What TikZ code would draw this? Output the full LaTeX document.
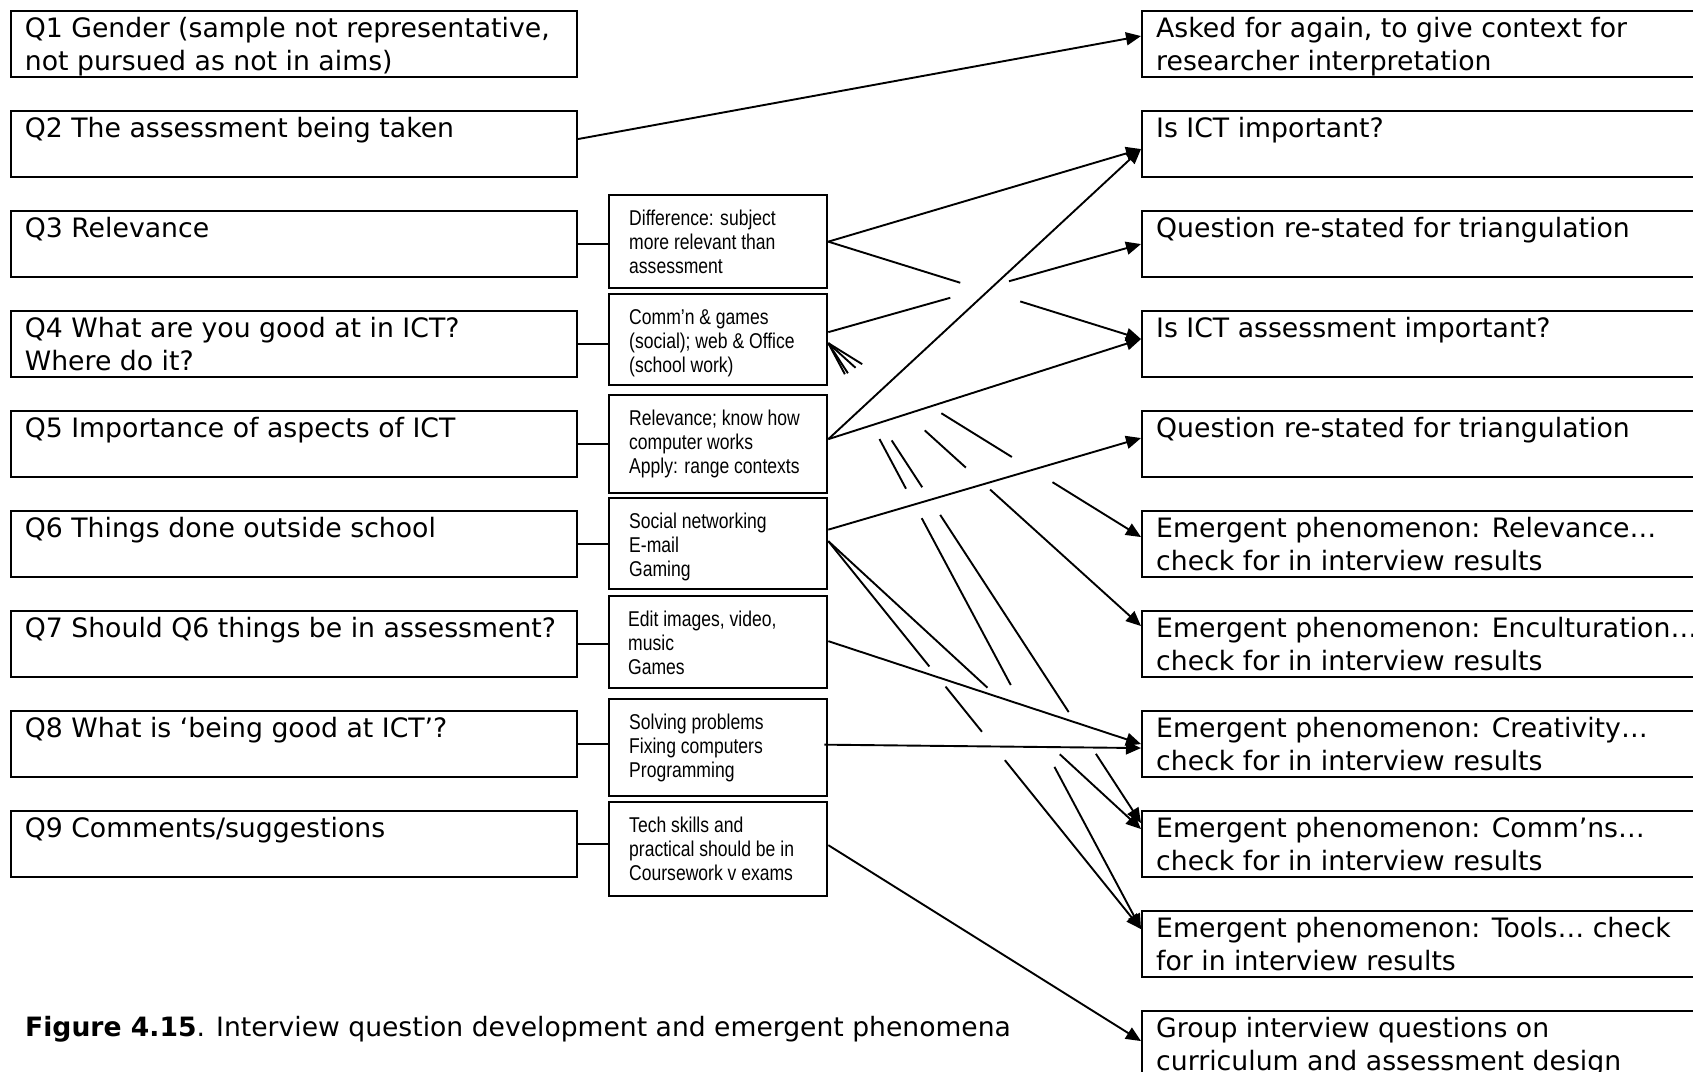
\documentclass[tikz,border=0pt]{standalone}
\usepackage{fontspec}
\setmainfont{DejaVu Sans}
\newfontfamily\narrowfont[FakeStretch=0.82]{Liberation Sans}
\usetikzlibrary{arrows.meta,calc}

\begin{document}
\begin{tikzpicture}[x=1pt,y=-1pt,
  box/.style={draw, line width=2.3pt, inner sep=0pt, anchor=north west},
  qbox/.style={box, minimum width=566pt, minimum height=66.4pt},
  mbox/.style={box, minimum width=218pt},
  rbox/.style={box, minimum width=600pt, minimum height=66.4pt},
  txt/.style={anchor=north west, inner sep=0pt, align=left,
    font=\fontsize{26.7}{32.4}\selectfont},
  mtxt/.style={anchor=north west, inner sep=0pt, align=left,
    font=\narrowfont\fontsize{21.4}{24}\selectfont},
  link/.style={line width=1.9pt},
  arr/.style={link, -{Triangle[length=15pt,width=13pt]}},
]
\useasboundingbox (0,0) rectangle (1693,1071);
\clip (0,0) rectangle (1693,1071);
\fill[white] (0,0) rectangle (1693,1071);

% ---- questionnaire items (left column)
\node[qbox] (q1) at (9.7,9.7) {};
\node[qbox] (q2) at (9.7,109.7) {};
\node[qbox] (q3) at (9.7,209.7) {};
\node[qbox] (q4) at (9.7,309.7) {};
\node[qbox] (q5) at (9.7,409.7) {};
\node[qbox] (q6) at (9.7,509.7) {};
\node[qbox] (q7) at (9.7,609.7) {};
\node[qbox] (q8) at (9.7,709.7) {};
\node[qbox] (q9) at (9.7,809.7) {};

\node[txt] (q1t) at ($(q1.north west)+(15,5.3)$) {\strut Q1 Gender (sample not representative,\\not pursued as not in aims)};
\node[txt] (q2t) at ($(q2.north west)+(15,5.3)$) {\strut Q2 The assessment being taken};
\node[txt] (q3t) at ($(q3.north west)+(15,5.3)$) {\strut Q3 Relevance};
\node[txt] (q4t) at ($(q4.north west)+(15,5.3)$) {\strut Q4 What are you good at in ICT?\\Where do it?};
\node[txt] (q5t) at ($(q5.north west)+(15,5.3)$) {\strut Q5 Importance of aspects of ICT};
\node[txt] (q6t) at ($(q6.north west)+(15,5.3)$) {\strut Q6 Things done outside school};
\node[txt] (q7t) at ($(q7.north west)+(15,5.3)$) {\strut Q7 Should Q6 things be in assessment?};
\node[txt] (q8t) at ($(q8.north west)+(15,5.3)$) {\strut Q8 What is ‘being good at ICT’?};
\node[txt] (q9t) at ($(q9.north west)+(15,5.3)$) {\strut Q9 Comments/suggestions};

% ---- summarised responses (middle column)
\node[mbox, minimum height=93pt] (m3) at (608,194) {};
\node[mbox, minimum height=91pt] (m4) at (608,293) {};
\node[mbox, minimum height=98pt] (m5) at (608,394) {};
\node[mbox, minimum height=91pt] (m6) at (608,497) {};
\node[mbox, minimum height=92pt] (m7) at (608,595) {};
\node[mbox, minimum height=97pt] (m8) at (608,698) {};
\node[mbox, minimum height=94pt] (m9) at (608,801) {};

\node[mtxt] (m3t) at ($(m3.north west)+(21,14.2)$) {\strut Difference: subject\\more relevant than\\assessment};
\node[mtxt] (m4t) at ($(m4.north west)+(21,14.2)$) {\strut Comm’n \& games\\(social); web \& Office\\(school work)};
\node[mtxt] (m5t) at ($(m5.north west)+(21,14.2)$) {\strut Relevance; know how\\computer works\\Apply: range contexts};
\node[mtxt] (m6t) at ($(m6.north west)+(21,14.2)$) {\strut Social networking\\E-mail\\Gaming};
\node[mtxt] (m7t) at ($(m7.north west)+(20,14.2)$) {\strut Edit images, video,\\music\\Games};
\node[mtxt] (m8t) at ($(m8.north west)+(21,14.2)$) {\strut Solving problems\\Fixing computers\\Programming};
\node[mtxt] (m9t) at ($(m9.north west)+(21,14.2)$) {\strut Tech skills and\\practical should be in\\Coursework v exams};

% ---- outcomes (right column, running off the right edge)
\node[rbox] (r1) at (1141,9.7) {};
\node[rbox] (r2) at (1141,109.7) {};
\node[rbox] (r3) at (1141,209.7) {};
\node[rbox] (r4) at (1141,309.7) {};
\node[rbox] (r5) at (1141,409.7) {};
\node[rbox] (r6) at (1141,509.7) {};
\node[rbox] (r7) at (1141,609.7) {};
\node[rbox] (r8) at (1141,709.7) {};
\node[rbox] (r9) at (1141,809.7) {};
\node[rbox] (r10) at (1141,909.7) {};
\node[rbox] (r11) at (1141,1009.7) {};

\node[txt] (r1t) at ($(r1.north west)+(15,5.3)$) {\strut Asked for again, to give context for\\researcher interpretation};
\node[txt] (r2t) at ($(r2.north west)+(15,5.3)$) {\strut Is ICT important?};
\node[txt] (r3t) at ($(r3.north west)+(15,5.3)$) {\strut Question re-stated for triangulation};
\node[txt] (r4t) at ($(r4.north west)+(15,5.3)$) {\strut Is ICT assessment important?};
\node[txt] (r5t) at ($(r5.north west)+(15,5.3)$) {\strut Question re-stated for triangulation};
\node[txt] (r6t) at ($(r6.north west)+(15,5.3)$) {\strut Emergent phenomenon: Relevance…\\check for in interview results};
\node[txt] (r7t) at ($(r7.north west)+(15,5.3)$) {\strut Emergent phenomenon: Enculturation…\\check for in interview results};
\node[txt] (r8t) at ($(r8.north west)+(15,5.3)$) {\strut Emergent phenomenon: Creativity…\\check for in interview results};
\node[txt] (r9t) at ($(r9.north west)+(15,5.3)$) {\strut Emergent phenomenon: Comm’ns…\\check for in interview results};
\node[txt] (r10t) at ($(r10.north west)+(15,5.3)$) {\strut Emergent phenomenon: Tools… check\\for in interview results};
\node[txt] (r11t) at ($(r11.north west)+(15,5.3)$) {\strut Group interview questions on\\curriculum and assessment design};

% ---- caption
\node[anchor=base west, inner sep=0pt, font=\fontsize{26.6}{31}\selectfont] (cap)
  at (25,1036.7) {\textbf{Figure 4.15}. Interview question development and emergent phenomena};

% ---- question to response links
\foreach \k in {3,...,9}
  \draw[link] (q\k.east) -- (q\k.east -| m\k.west);

% ---- links to outcomes (some run partly hidden)
\draw[arr] ($(q2.east)+(0,-5)$) -- ($(r1.west)+(0,-8)$);
\draw[arr] (m3.east) -- ($(r2.west)+(0,5)$);
\draw[arr, dash pattern=on 138.2pt off 62.8pt on 400pt] (m3.east) -- ($(r4.west)+(0,-5)$);
\draw[arr, dash pattern=on 126.7pt off 61pt on 400pt] ($(m4.east)+(0,-7.5)$) -- (r3.west);
\draw[arr, dash pattern=on 39.9pt off 93.1pt on 83pt off 47.8pt on 400pt]
  ($(m4.east)+(0,3.5)$) -- ($(r6.west)+(0,-7)$);
\draw[arr, dash pattern=on 36.7pt off 93.3pt on 55.5pt off 32.7pt on 400pt]
  ($(m4.east)+(0,3.5)$) -- ($(r7.west)+(0,-18)$);
\draw[arr, dash pattern=on 35.9pt off 80.2pt on 55.9pt off 33pt on 235.3pt off 49.9pt on 400pt]
  ($(m4.east)+(0,3.5)$) -- ($(r9.west)+(0,-21)$);
\draw[arr, dash pattern=on 35.2pt off 73.5pt on 56.3pt off 33.4pt on 189.1pt off 92.8pt on 400pt]
  ($(m4.east)+(0,3.5)$) -- ($(r10.west)+(0,-15)$);
\draw[arr] ($(m5.east)+(0,-5)$) -- ($(r2.west)+(0,5)$);
\draw[arr] ($(m5.east)+(0,-5)$) -- ($(r4.west)+(0,-5)$);
\draw[arr] ($(m6.east)+(0,-14)$) -- ($(r5.west)+(0,-6)$);
\draw[arr, dash pattern=on 161pt off 25.8pt on 58pt off 36.5pt on 400pt]
  ($(m6.east)+(0,-2.5)$) -- ($(r10.west)+(0,-15)$);
\draw[arr, dash pattern=on 216.3pt off 98.3pt on 400pt]
  ($(m6.east)+(0,-2.5)$) -- ($(r9.west)+(0,-15)$);
\draw[arr] ($(m7.east)+(0,-1)$) -- (r8.west);
\draw[arr] ($(m8.east)+(-4,-3)$) -- ($(r8.west)+(0,4)$);
\draw[arr] ($(m9.east)+(0,-4)$) -- ($(r11.west)+(0,-3)$);
\end{tikzpicture}
\end{document}
